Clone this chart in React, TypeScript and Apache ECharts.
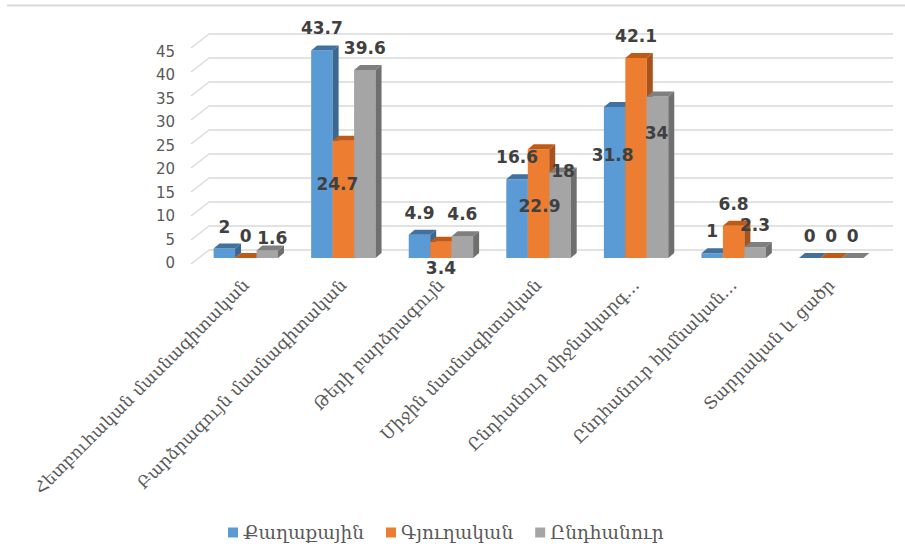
import React, { useEffect, useRef } from "react";
import * as echarts from "echarts";

const categories = [
  "Հետբուհական մասնագիտական",
  "Բարձրագույն մասնագիտական",
  "Թերի բարձրագույն",
  "Միջին մասնագիտական",
  "Ընդհանուր միջնակարգ…",
  "Ընդհանուր հիմնական…",
  "Տարրական և ցածր",
];
const seriesNames = ["Քաղաքային", "Գյուղական", "Ընդհանուր"];
const urban = [2, 43.7, 4.9, 16.6, 31.8, 1, 0];
const rural = [0, 24.7, 3.4, 22.9, 42.1, 6.8, 0];
const total = [1.6, 39.6, 4.6, 18, 34, 2.3, 0];
const yTicks = [0, 5, 10, 15, 20, 25, 30, 35, 40, 45];

const palette = [
  { front: "#5B9BD5", top: "#41719C", side: "#3A6892" },
  { front: "#ED7D31", top: "#C05A17", side: "#A9531C" },
  { front: "#A5A5A5", top: "#7F7F7F", side: "#6F6F6F" },
];

// label offsets (dx, dy) relative to bar front-top centre; default [0, -22]
const labelShift: Record<number, Record<number, [number, number]>> = {
  0: { 4: [-2, 48] },
  1: { 1: [-6, 43], 2: [0, 26], 3: [1, 57] },
  2: { 0: [5, -12], 3: [3, -2], 4: [-1, 36] },
};

function makeRender(si: number) {
  return (params: any, api: any) => {
    const ci = api.value(0);
    const v = api.value(1);
    const top = api.coord([ci, v]);
    const base = api.coord([ci, 0]);
    const band = api.size([1, 0])[0];
    const w = band * 0.22;
    const cx = top[0] + (si - 1) * w;
    const left = cx - w / 2;
    const ty = top[1];
    const by = base[1];
    const dx = 6;
    const dy = -5;
    const c = palette[si];
    const sh = (labelShift[si] && labelShift[si][ci]) || [0, -22];
    return {
      type: "group",
      children: [
        { type: "rect", shape: { x: left, y: ty, width: w, height: by - ty }, style: { fill: c.front } },
        {
          type: "polygon",
          shape: { points: [[left, ty], [left + w, ty], [left + w + dx, ty + dy], [left + dx, ty + dy]] },
          style: { fill: c.top },
        },
        {
          type: "polygon",
          shape: { points: [[left + w, ty], [left + w + dx, ty + dy], [left + w + dx, by + dy], [left + w, by]] },
          style: { fill: c.side },
        },
        {
          type: "text",
          z2: 100,
          style: {
            text: String(v),
            x: cx + sh[0],
            y: ty + sh[1],
            align: "center",
            verticalAlign: "middle",
            fontSize: 17,
            fontWeight: "bold",
            fontFamily: "DejaVu Sans",
            fill: "#404040",
          },
        },
      ],
    };
  };
}

export default function App() {
  const ref = useRef<HTMLDivElement>(null);
  useEffect(() => {
    document.body.style.margin = "0";
    const chart = echarts.init(ref.current!, null, { renderer: "svg" });
    const seriesData = [urban, rural, total];
    chart.setOption({
      animation: false,
      backgroundColor: "#FFFFFF",
      graphic: [
        { type: "line", shape: { x1: 7, y1: 5.5, x2: 905, y2: 5.5 }, style: { stroke: "#D9D9D9", lineWidth: 2 } },
      ],
      grid: [
        { left: 209, right: 12, top: 34, bottom: 301 },
        { left: 190, right: 12, top: 52, bottom: 288 },
        { left: 197, right: 25, top: 44.25, bottom: 293 },
      ],
      xAxis: [
        { gridIndex: 0, type: "value", min: 0, max: 1, show: false },
        { gridIndex: 1, type: "value", min: 0, max: 1, show: false },
        {
          gridIndex: 2,
          type: "category",
          data: categories,
          axisLine: { show: false },
          axisTick: { show: false },
          axisLabel: {
            rotate: 45,
            margin: 24,
            interval: 0,
            color: "#595959",
            fontSize: 17,
            fontFamily: "DejaVu Serif",
          },
        },
      ],
      yAxis: [
        {
          gridIndex: 0,
          type: "value",
          min: 0,
          max: 45,
          interval: 5,
          axisLabel: { show: false },
          axisLine: { show: false },
          axisTick: { show: false },
          splitLine: { lineStyle: { color: "#D9D9D9", width: 1.5 } },
        },
        {
          gridIndex: 1,
          type: "value",
          min: 0,
          max: 45,
          interval: 5,
          axisLine: { show: false },
          axisTick: { show: false },
          splitLine: { show: false },
          axisLabel: { margin: 15, color: "#595959", fontSize: 15, fontFamily: "DejaVu Sans" },
        },
        { gridIndex: 2, type: "value", min: 0, max: 45, show: false },
      ],
      legend: {
        data: seriesNames.map((n) => ({ name: n, icon: "rect" })),
        left: 228,
        top: 523,
        padding: 0,
        itemWidth: 10,
        itemHeight: 10,
        itemGap: 22,
        textStyle: { color: "#595959", fontSize: 18.5, fontFamily: "DejaVu Serif" },
      },
      series: [
        {
          type: "custom",
          name: "walls",
          xAxisIndex: 0,
          yAxisIndex: 0,
          silent: true,
          data: yTicks.map((t) => [0, t]),
          renderItem: (params: any, api: any) => {
            const p = api.coord([0, api.value(1)]);
            return {
              type: "line",
              shape: { x1: p[0] - 18, y1: p[1] + 14, x2: p[0], y2: p[1] },
              style: { stroke: "#D9D9D9", lineWidth: 1.3 },
            };
          },
        },
        ...seriesNames.map((name, si) => ({
          type: "custom",
          name,
          xAxisIndex: 2,
          yAxisIndex: 2,
          itemStyle: { color: palette[si].front },
          encode: { x: 0, y: 1 },
          data: seriesData[si].map((v, i) => [i, v]),
          renderItem: makeRender(si),
        })),
      ],
    });
    return () => chart.dispose();
  }, []);
  return <div ref={ref} style={{ width: 905, height: 551 }} />;
}
